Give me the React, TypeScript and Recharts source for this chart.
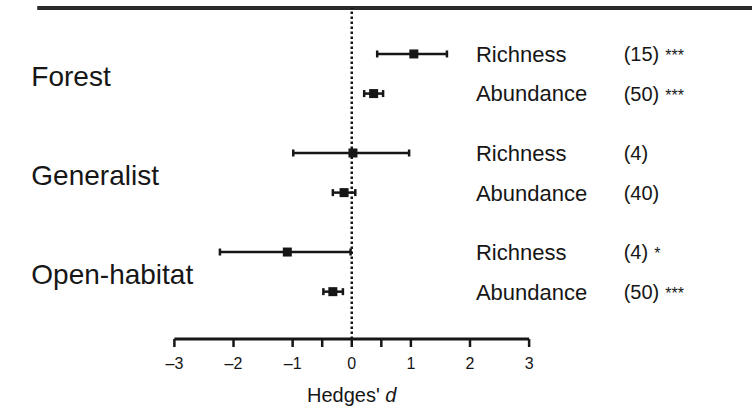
import {
  ComposedChart,
  Scatter,
  ErrorBar,
  XAxis,
  YAxis,
  ReferenceLine,
} from 'recharts';

// habitat groups, each with a richness and an abundance row
const groups = ['Forest', 'Generalist', 'Open-habitat'];
const measures = ['Richness', 'Abundance'];

// Hedges' d: mean and 95% CI, rows top to bottom
const means = [1.05, 0.37, 0.02, -0.13, -1.09, -0.32];
const lows = [0.43, 0.21, -0.99, -0.32, -2.23, -0.48];
const highs = [1.61, 0.53, 0.97, 0.06, -0.02, -0.15];
const counts = ['(15)', '(50)', '(4)', '(40)', '(4)', '(50)'];
const stars = ['***', '***', '', '', '*', '***'];

const xTicks = [-3, -2, -1, -0.5, 0, 0.5, 1, 2, 3];

const X_DOMAIN: [number, number] = [-5.95, 6.77];
const Y_DOMAIN: [number, number] = [-0.32, 16.39];
const GROUP_X = -5.42;
const MEASURE_X = 2.1;
const COUNT_X = 4.6;
const FONT = '"Liberation Sans", Arial, Helvetica, sans-serif';
const INK = '#161616';

const rowPos = (i: number) => 2 + i * 2 + Math.floor(i / 2);

const rows = means.map((m, i) => ({
  x: m,
  y: rowPos(i),
  err: [m - lows[i], highs[i] - m],
}));

const measureLabels = means.map((_, i) => ({
  x: MEASURE_X,
  y: rowPos(i),
  text: measures[i % 2],
}));

const countLabels = means.map((_, i) => ({
  x: COUNT_X,
  y: rowPos(i),
  text: counts[i],
  stars: stars[i],
}));

const groupLabels = groups.map((g, k) => ({
  x: GROUP_X,
  y: (rowPos(k * 2) + rowPos(k * 2 + 1)) / 2 + 0.12,
  text: g,
}));

const Square = (props: any) => {
  const { cx, cy } = props;
  if (cx == null || cy == null) return null;
  return <rect x={cx - 4.5} y={cy - 4.5} width={9} height={9} fill={INK} />;
};

const textShape = (size: number) => (props: any) => {
  const { cx, cy, payload } = props;
  if (cx == null || cy == null) return null;
  return (
    <text
      x={cx}
      y={cy}
      dy="0.36em"
      fontSize={size}
      fontFamily={FONT}
      fill={INK}
      textAnchor="start"
    >
      {payload.text}
      {payload.stars ? (
        <tspan fontSize={size * 0.8} dx={size * 0.3}>
          {payload.stars}
        </tspan>
      ) : null}
    </text>
  );
};

const AxisTitle = (props: any) => {
  const vb = props.viewBox || {};
  const cx = (vb.x ?? 0) + (vb.width ?? 0) / 2;
  return (
    <text
      x={cx}
      y={(vb.y ?? 0) + 63}
      textAnchor="middle"
      fontSize={20}
      fontFamily={FONT}
      fill={INK}
    >
      <tspan>Hedges' </tspan>
      <tspan fontStyle="italic">d</tspan>
    </text>
  );
};

const fmtTick = (v: number) => {
  if (Math.abs(v) === 0.5) return '';
  return v < 0 ? `\u2013${Math.abs(v)}` : `${v}`;
};

const TickLabel = (props: any) => {
  const { x, y, payload } = props;
  return (
    <text
      x={x}
      y={y}
      dy={12}
      textAnchor="middle"
      fontSize={16}
      fontFamily={FONT}
      fill={INK}
    >
      {fmtTick(payload.value)}
    </text>
  );
};

export default function App() {
  return (
    <div style={{ position: 'absolute', left: 0, top: 0, background: '#fff' }}>
      <ComposedChart
        width={752}
        height={407}
        margin={{ top: 8, right: 0, bottom: 0, left: 0 }}
      >
        <XAxis
          type="number"
          dataKey="x"
          domain={X_DOMAIN}
          allowDataOverflow
          ticks={xTicks}
          interval={0}
          axisLine={false}
          tickLine={{ stroke: INK, strokeWidth: 2.5 }}
          tickSize={8}
          tickMargin={10}
          height={68}
          tick={<TickLabel />}
        />
        <YAxis
          type="number"
          dataKey="y"
          domain={Y_DOMAIN}
          allowDataOverflow
          reversed
          hide
          width={0}
        />

        {/* heavy rule across the top */}
        <ReferenceLine
          segment={[
            { x: -5.32, y: Y_DOMAIN[0] },
            { x: X_DOMAIN[1], y: Y_DOMAIN[0] },
          ]}
          stroke="#2a2a2a"
          strokeWidth={4}
        />

        {/* zero line */}
        <ReferenceLine x={0} stroke={INK} strokeWidth={2.5} strokeDasharray="2.5 2.5" />

        {/* x axis line from -3 to 3 */}
        <ReferenceLine
          segment={[
            { x: -3, y: Y_DOMAIN[1] },
            { x: 3, y: Y_DOMAIN[1] },
          ]}
          stroke={INK}
          strokeWidth={3}
          label={<AxisTitle />}
        />

        <Scatter data={rows} shape={<Square />} isAnimationActive={false}>
          <ErrorBar
            dataKey="err"
            direction="x"
            width={3.5}
            stroke={INK}
            strokeWidth={2.5}
            isAnimationActive={false}
          />
        </Scatter>

        <Scatter data={groupLabels} shape={textShape(28)} isAnimationActive={false} />
        <Scatter data={measureLabels} shape={textShape(22)} isAnimationActive={false} />
        <Scatter data={countLabels} shape={textShape(20)} isAnimationActive={false} />
      </ComposedChart>
    </div>
  );
}
